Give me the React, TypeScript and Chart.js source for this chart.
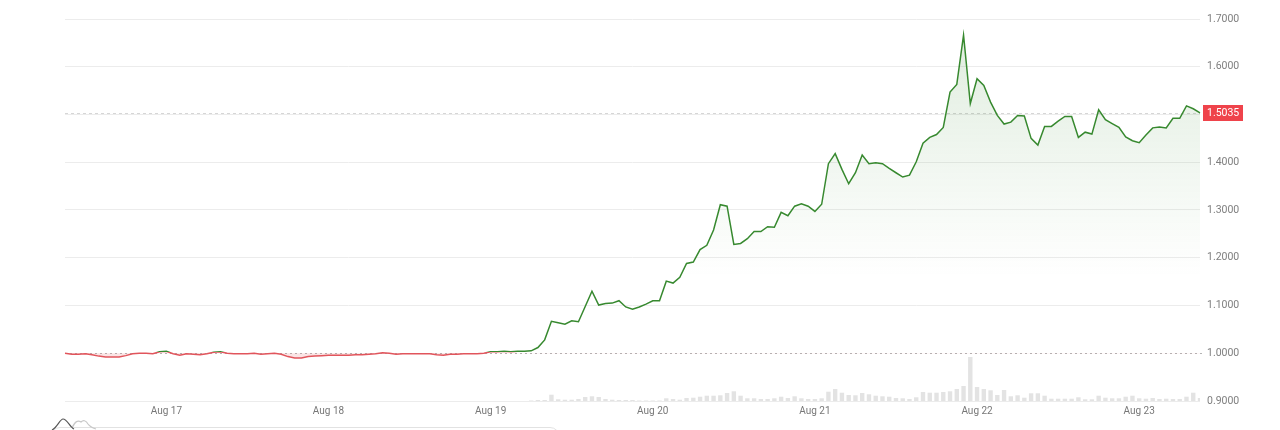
import React, { useEffect, useRef } from 'react';
import { Chart, registerables } from 'chart.js';

Chart.register(...registerables);

// ---- data ----
const BASELINE = 1.0;
const LAST_PRICE = 1.5035;
const Y_MIN = 0.9;
const Y_MAX = 1.7;
const Y_STEP = 0.1;
const FADE_LEVEL = 1.16;

const START_MONTH = 'Aug';
const START_DAY = 16;
const START_HOUR = 9;

const DAY_TICKS = ['Aug 17', 'Aug 18', 'Aug 19', 'Aug 20', 'Aug 21', 'Aug 22', 'Aug 23'];

// hourly price, Aug 16 09:00 -> Aug 23 09:00
const PRICES = [
  1.000, 0.998, 0.998, 0.999, 0.997, 0.994, 0.992, 0.992, 0.992, 0.995,
  0.999, 1.000, 1.000, 0.999, 1.003, 1.004, 0.999, 0.996, 0.999, 0.998,
  0.997, 0.999, 1.002, 1.003, 1.000, 0.999, 0.999, 0.999, 1.000, 0.998,
  0.999, 1.000, 0.998, 0.993, 0.990, 0.990, 0.993, 0.994, 0.995, 0.996,
  0.996, 0.996, 0.996, 0.997, 0.997, 0.998, 0.999, 1.001, 1.000, 0.998,
  0.999, 0.999, 0.999, 0.999, 0.999, 0.997, 0.996, 0.998, 0.998, 0.999,
  0.999, 0.999, 1.000, 1.003, 1.003, 1.004, 1.003, 1.004, 1.004, 1.005,
  1.012, 1.028, 1.067, 1.064, 1.061, 1.068, 1.066, 1.098, 1.130, 1.101,
  1.104, 1.105, 1.110, 1.097, 1.092, 1.097, 1.103, 1.110, 1.110, 1.151,
  1.147, 1.159, 1.188, 1.191, 1.217, 1.226, 1.258, 1.311, 1.308, 1.228,
  1.230, 1.240, 1.255, 1.255, 1.265, 1.264, 1.295, 1.288, 1.308, 1.313,
  1.308, 1.297, 1.312, 1.397, 1.418, 1.385, 1.355, 1.378, 1.415, 1.397,
  1.399, 1.397, 1.387, 1.378, 1.369, 1.373, 1.401, 1.440, 1.452, 1.458,
  1.473, 1.547, 1.563, 1.666, 1.523, 1.575, 1.561, 1.526, 1.498, 1.480,
  1.484, 1.498, 1.497, 1.450, 1.436, 1.475, 1.475, 1.486, 1.496, 1.496,
  1.452, 1.463, 1.459, 1.510, 1.489, 1.481, 1.473, 1.453, 1.445, 1.441,
  1.457, 1.472, 1.474, 1.472, 1.492, 1.492, 1.518, 1.512, 1.5035,
];

// hourly volume (arbitrary units)
const VOLUMES = [
  0, 0, 0, 0, 0, 0, 0, 0, 0, 0,
  0, 0, 0, 0, 0, 0, 0, 0, 0, 0,
  0, 0, 0, 0, 0, 0, 0, 0, 0, 0,
  0, 0, 0, 0, 0, 0, 0, 0, 0, 0,
  0, 0, 0, 0, 0, 0, 0, 0, 0, 0,
  0, 0, 0, 0, 0, 0, 0, 0, 0, 0,
  0, 0, 0, 0, 0, 0, 0, 0, 0, 5,
  10, 10, 63, 17, 13, 13, 20, 40, 47, 40,
  20, 13, 10, 10, 10, 5, 5, 5, 5, 27,
  20, 13, 30, 33, 43, 53, 53, 57, 80, 97,
  53, 27, 27, 20, 20, 27, 43, 30, 47, 27,
  20, 20, 27, 93, 120, 83, 60, 57, 80, 67,
  53, 47, 43, 30, 27, 20, 37, 90, 83, 83,
  90, 97, 120, 150, 440, 140, 120, 107, 60, 110,
  47, 57, 33, 77, 77, 53, 23, 23, 23, 23,
  37, 17, 17, 53, 33, 27, 27, 43, 53, 27,
  23, 30, 20, 23, 20, 20, 43, 83, 30,
];
const VOLUME_AXIS_MAX = 3820;

const TIMES = PRICES.map((_, i) => {
  const h = START_HOUR + i;
  const d = START_DAY + Math.floor(h / 24);
  const hh = h % 24;
  return `${START_MONTH} ${d} ${String(hh).padStart(2, '0')}:00`;
});

// ---- styles ----
const GREEN = '#37892f';
const RED = '#e1555c';
const FONT = 'Roboto, "Liberation Sans", Arial, sans-serif';

function lineStroke(c: any) {
  const chart = c.chart;
  const area = chart.chartArea;
  const y = chart.scales && chart.scales.y;
  if (!area || !y) return GREEN;
  const yb = y.getPixelForValue(BASELINE) - 1;
  const h = area.bottom - area.top;
  const t = Math.min(1, Math.max(0, (yb - area.top) / h));
  const g = chart.ctx.createLinearGradient(0, area.top, 0, area.bottom);
  g.addColorStop(0, GREEN);
  g.addColorStop(t, GREEN);
  g.addColorStop(t, RED);
  g.addColorStop(1, RED);
  return g;
}

function areaFill(c: any) {
  const chart = c.chart;
  const area = chart.chartArea;
  const y = chart.scales && chart.scales.y;
  if (!area || !y) return 'rgba(0,0,0,0)';
  const h = area.bottom - area.top;
  const tf = Math.min(1, Math.max(0, (y.getPixelForValue(FADE_LEVEL) - area.top) / h));
  const tb = Math.min(1, Math.max(0, (y.getPixelForValue(BASELINE) - area.top) / h));
  const g = chart.ctx.createLinearGradient(0, area.top, 0, area.bottom);
  g.addColorStop(0, 'rgba(55,137,47,0.16)');
  g.addColorStop(tf, 'rgba(55,137,47,0)');
  g.addColorStop(tb, 'rgba(55,137,47,0)');
  g.addColorStop(tb, 'rgba(225,85,92,0.16)');
  g.addColorStop(1, 'rgba(225,85,92,0.16)');
  return g;
}

const refLines = {
  id: 'refLines',
  beforeDatasetsDraw(chart: any) {
    const { ctx, chartArea, scales } = chart;
    const y = scales.y;
    ctx.save();
    ctx.lineWidth = 1;
    // baseline (previous close)
    const yb = Math.round(y.getPixelForValue(BASELINE)) + 0.5;
    ctx.strokeStyle = '#b4b4b4';
    ctx.setLineDash([2, 3]);
    ctx.beginPath();
    ctx.moveTo(chartArea.left, yb);
    ctx.lineTo(chartArea.right + 4, yb);
    ctx.stroke();
    // last price line
    const yp = Math.round(y.getPixelForValue(LAST_PRICE)) + 0.5;
    ctx.strokeStyle = '#d6d6d6';
    ctx.setLineDash([3, 3]);
    ctx.beginPath();
    ctx.moveTo(chartArea.left, yp);
    ctx.lineTo(chartArea.right, yp);
    ctx.stroke();
    ctx.restore();
  },
  afterDraw(chart: any) {
    const { ctx, chartArea, scales } = chart;
    const yp = scales.y.getPixelForValue(LAST_PRICE);
    ctx.save();
    ctx.fillStyle = '#ef434b';
    ctx.fillRect(chartArea.right + 3, Math.round(yp) - 8, 40, 16);
    ctx.fillStyle = '#ffffff';
    ctx.font = `10.5px ${FONT}`;
    ctx.textBaseline = 'middle';
    ctx.textAlign = 'left';
    ctx.fillText(LAST_PRICE.toFixed(4), chartArea.right + 7, Math.round(yp) + 0.5);
    ctx.restore();
  },
};

export default function App() {
  const ref = useRef<HTMLCanvasElement>(null);

  useEffect(() => {
    document.body.style.margin = '0';
    const canvas = ref.current;
    if (!canvas) return;
    Chart.defaults.font.family = FONT;
    const chart = new Chart(canvas, {
      type: 'line',
      data: {
        labels: TIMES,
        datasets: [
          {
            type: 'line',
            label: 'Price',
            data: PRICES,
            yAxisID: 'y',
            borderColor: lineStroke,
            backgroundColor: areaFill,
            borderWidth: 1.5,
            pointRadius: 0,
            tension: 0,
            fill: { value: BASELINE },
            order: 1,
          } as any,
          {
            type: 'bar',
            label: 'Volume',
            data: VOLUMES,
            yAxisID: 'y2',
            backgroundColor: '#e3e3e3',
            barPercentage: 0.65,
            categoryPercentage: 1,
            order: 2,
          } as any,
        ],
      },
      options: {
        responsive: false,
        animation: false,
        layout: { padding: { left: 65, top: 19, right: 0, bottom: 8 } },
        plugins: {
          legend: { display: false },
          tooltip: { enabled: false },
        },
        scales: {
          x: {
            type: 'category',
            offset: false,
            grid: { display: false, drawTicks: false },
            border: { display: false },
            ticks: {
              autoSkip: false,
              maxRotation: 0,
              minRotation: 0,
              padding: 4,
              color: '#777777',
              font: { size: 10 },
              callback: function (this: any, v: any) {
                const l: string = this.getLabelForValue(v);
                if (!l.endsWith(' 00:00')) return '';
                const day = l.slice(0, -6);
                return DAY_TICKS.includes(day) ? day : '';
              },
            },
            afterFit(s: any) {
              s.height = 21;
            },
          },
          y: {
            position: 'right',
            min: Y_MIN,
            max: Y_MAX,
            grid: {
              color: (c: any) =>
                c.tick && Math.abs(c.tick.value - BASELINE) < 1e-6 ? 'rgba(0,0,0,0)' : '#ececec',
              drawTicks: false,
              lineWidth: 1,
            },
            border: { display: false },
            ticks: {
              stepSize: Y_STEP,
              padding: 7,
              color: '#7e7e7e',
              font: { size: 10.5 },
              callback: (v: any) => (Math.abs(Number(v) - 1.5) < 1e-6 ? '' : Number(v).toFixed(4)),
            },
            afterFit(s: any) {
              s.width = 80;
            },
          },
          y2: {
            display: false,
            position: 'left',
            min: 0,
            max: VOLUME_AXIS_MAX,
          },
        },
      } as any,
      plugins: [refLines],
    });
    return () => chart.destroy();
  }, []);

  return (
    <div style={{ position: 'relative', width: 1280, height: 430, overflow: 'hidden', background: '#fff' }}>
      <canvas ref={ref} width={1280} height={430} style={{ display: 'block' }} />
      <div
        style={{
          position: 'absolute',
          left: 50,
          top: 427,
          width: 510,
          height: 20,
          border: '1px solid #e2e2e2',
          borderRadius: 10,
          boxSizing: 'border-box',
        }}
      />
      <svg
        width={56}
        height={18}
        style={{ position: 'absolute', left: 46, top: 412 }}
        viewBox="0 0 56 18"
      >
        <path d="M 26 16 C 29 9, 32 8, 35 10 C 37 8, 40 8, 42 12 C 44 15, 47 16, 50 17" fill="none" stroke="#c8c8c8" strokeWidth={1.2} />
        <path d="M 6 18 C 11 16, 14 7, 17 7 C 21 7, 24 15, 28 17" fill="none" stroke="#555" strokeWidth={1.2} />
      </svg>
    </div>
  );
}
